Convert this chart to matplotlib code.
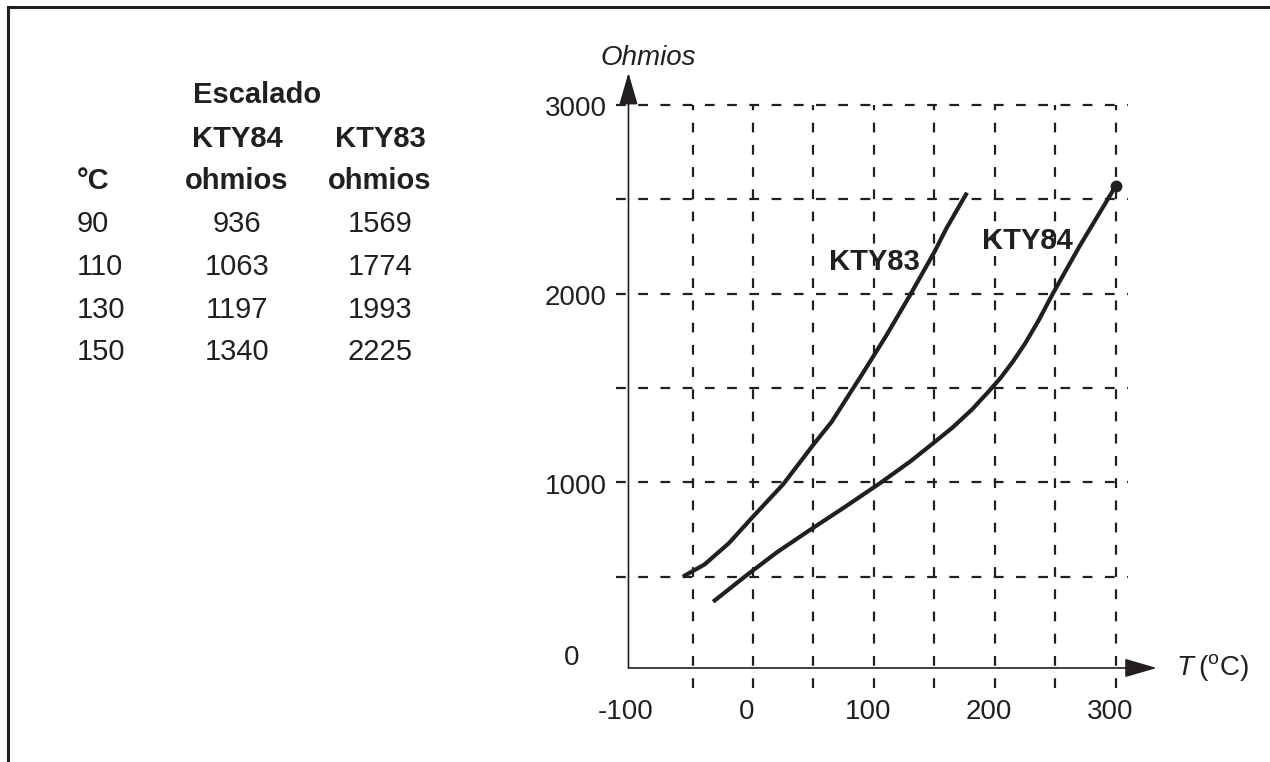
import matplotlib
matplotlib.use('Agg')
import matplotlib.pyplot as plt

plt.rcParams['font.family'] = ['Liberation Sans', 'DejaVu Sans']
plt.rcParams['mathtext.fontset'] = 'custom'
plt.rcParams['mathtext.rm'] = 'Liberation Sans'
plt.rcParams['mathtext.it'] = 'Liberation Sans:italic'

INK = '#231f20'

# sensor curves (temperature in degC, resistance in ohms)
kty83_t = [-58, -40, -20, 0, 25, 50, 65, 90, 110, 130, 150, 160, 177]
kty83_r = [500, 565, 677, 818, 990, 1200, 1320, 1570, 1775, 1993, 2220, 2346, 2535]
kty84_t = [-33, -5, 20, 47, 75, 105, 130, 149, 165, 181, 196, 205, 215, 225, 236, 248, 270, 300]
kty84_r = [367, 509, 630, 747, 865, 995, 1110, 1207, 1290, 1385, 1489, 1555, 1640, 1735, 1855, 2000, 2250, 2570]

# scaling table
table_temp = ['90', '110', '130', '150']
table_kty84 = ['936', '1063', '1197', '1340']
table_kty83 = ['1569', '1774', '1993', '2225']

x_ticks = [-100, 0, 100, 200, 300]
y_ticks = [1000, 2000, 3000]
x_grid = [-50, 0, 50, 100, 150, 200, 250, 300]
y_grid = [500, 1000, 1500, 2000, 2500, 3000]

W, H = 1270, 762
fig = plt.figure(figsize=(W / 100, H / 100), dpi=100)

# pixel layout of the plot area
ox, oy = 753, 671          # pixel of (0 degC, 0 ohm)
sx, sy = 1.209, 0.1887     # pixels per degC / per ohm
xlim = (-160, 345)
ylim = (-160, 3250)
x0 = ox + sx * xlim[0]
x1 = ox + sx * xlim[1]
y0 = oy - sy * ylim[0]
y1 = oy - sy * ylim[1]
ax = fig.add_axes([x0 / W, 1 - y0 / H, (x1 - x0) / W, (y0 - y1) / H])
ax.set_xlim(*xlim)
ax.set_ylim(*ylim)
ax.axis('off')

# frame lines along the top and left of the page
fig.add_artist(plt.Line2D([8 / W, 1], [1 - 7 / H, 1 - 7 / H], color=INK, lw=2.2))
fig.add_artist(plt.Line2D([8 / W, 8 / W], [0, 1 - 7 / H], color=INK, lw=2.2))

# dashed grid
dash = (0, (4.4, 5.6))
for t in x_grid:
    ax.plot([t, t], [-90, 3000], color=INK, lw=1.6, linestyle=dash, clip_on=False)
for r in y_grid:
    ax.plot([-113, 310], [r, r], color=INK, lw=1.6, linestyle=dash, clip_on=False)

# axes with arrow heads
ax_x, ax_y = -103, 16
arrow = dict(arrowstyle='-|>,head_length=1.0,head_width=0.29', mutation_scale=20,
             color=INK, lw=1.2, shrinkA=0, shrinkB=0)
ax.annotate('', xy=(ax_x, 3170), xytext=(ax_x, ax_y), arrowprops=arrow,
            annotation_clip=False)
ax.annotate('', xy=(334, ax_y), xytext=(ax_x, ax_y), arrowprops=arrow,
            annotation_clip=False)

# curves
ax.plot(kty83_t, kty83_r, color=INK, lw=3, solid_capstyle='butt',
        solid_joinstyle='round', clip_on=False)
ax.plot(kty84_t, kty84_r, color=INK, lw=3, solid_capstyle='butt',
        solid_joinstyle='round', clip_on=False)
ax.plot(kty84_t[-1], kty84_r[-1], 'o', color=INK, ms=7.5, clip_on=False)

ax.text(100, 2125, 'KTY83', fontsize=21, fontweight='bold', color=INK,
        ha='center', va='baseline')
ax.text(227, 2235, 'KTY84', fontsize=21, fontweight='bold', color=INK,
        ha='center', va='baseline')

# tick labels
for v in y_ticks:
    ax.text(-121, v - 60, str(v), fontsize=20, color=INK, ha='right', va='baseline')
ax.text(-150, 30, '0', fontsize=20, color=INK, ha='center', va='baseline')
for v in x_ticks:
    ax.text(v - 5, -255, str(v), fontsize=20, color=INK, ha='center', va='baseline')

ax.text(-87, 3248, 'Ohmios', fontsize=20, style='italic', color=INK,
        ha='center', va='center')
ax.text(350, ax_y, 'T', fontsize=20, style='italic', color=INK,
        ha='left', va='center')
ax.text(368, ax_y, '($^{\\mathrm{o}}$C)', fontsize=20, color=INK,
        ha='left', va='center')

# scaling table in pixel coordinates
def px(x, y):
    return x / W, 1 - y / H

col_t, col_84, col_83 = 77, 237, 380
fs = 21
fig.text(*px(257, 103), 'Escalado', fontsize=fs, fontweight='bold', color=INK,
         ha='center', va='baseline')
fig.text(*px(col_84, 147), 'KTY84', fontsize=fs, fontweight='bold', color=INK,
         ha='center', va='baseline')
fig.text(*px(col_83, 147), 'KTY83', fontsize=fs, fontweight='bold', color=INK,
         ha='center', va='baseline')
fig.text(*px(col_t, 189), '°C', fontsize=fs, fontweight='bold', color=INK,
         ha='left', va='baseline')
fig.text(*px(col_84, 189), 'ohmios', fontsize=fs, fontweight='bold', color=INK,
         ha='center', va='baseline')
fig.text(*px(col_83, 189), 'ohmios', fontsize=fs, fontweight='bold', color=INK,
         ha='center', va='baseline')
row_y = [232, 275, 318, 360]
for y, a, b, c in zip(row_y, table_temp, table_kty84, table_kty83):
    fig.text(*px(col_t, y), a, fontsize=fs, color=INK, ha='left', va='baseline')
    fig.text(*px(col_84, y), b, fontsize=fs, color=INK, ha='center', va='baseline')
    fig.text(*px(col_83, y), c, fontsize=fs, color=INK, ha='center', va='baseline')

fig.savefig('out.png', dpi=100, facecolor='white')
